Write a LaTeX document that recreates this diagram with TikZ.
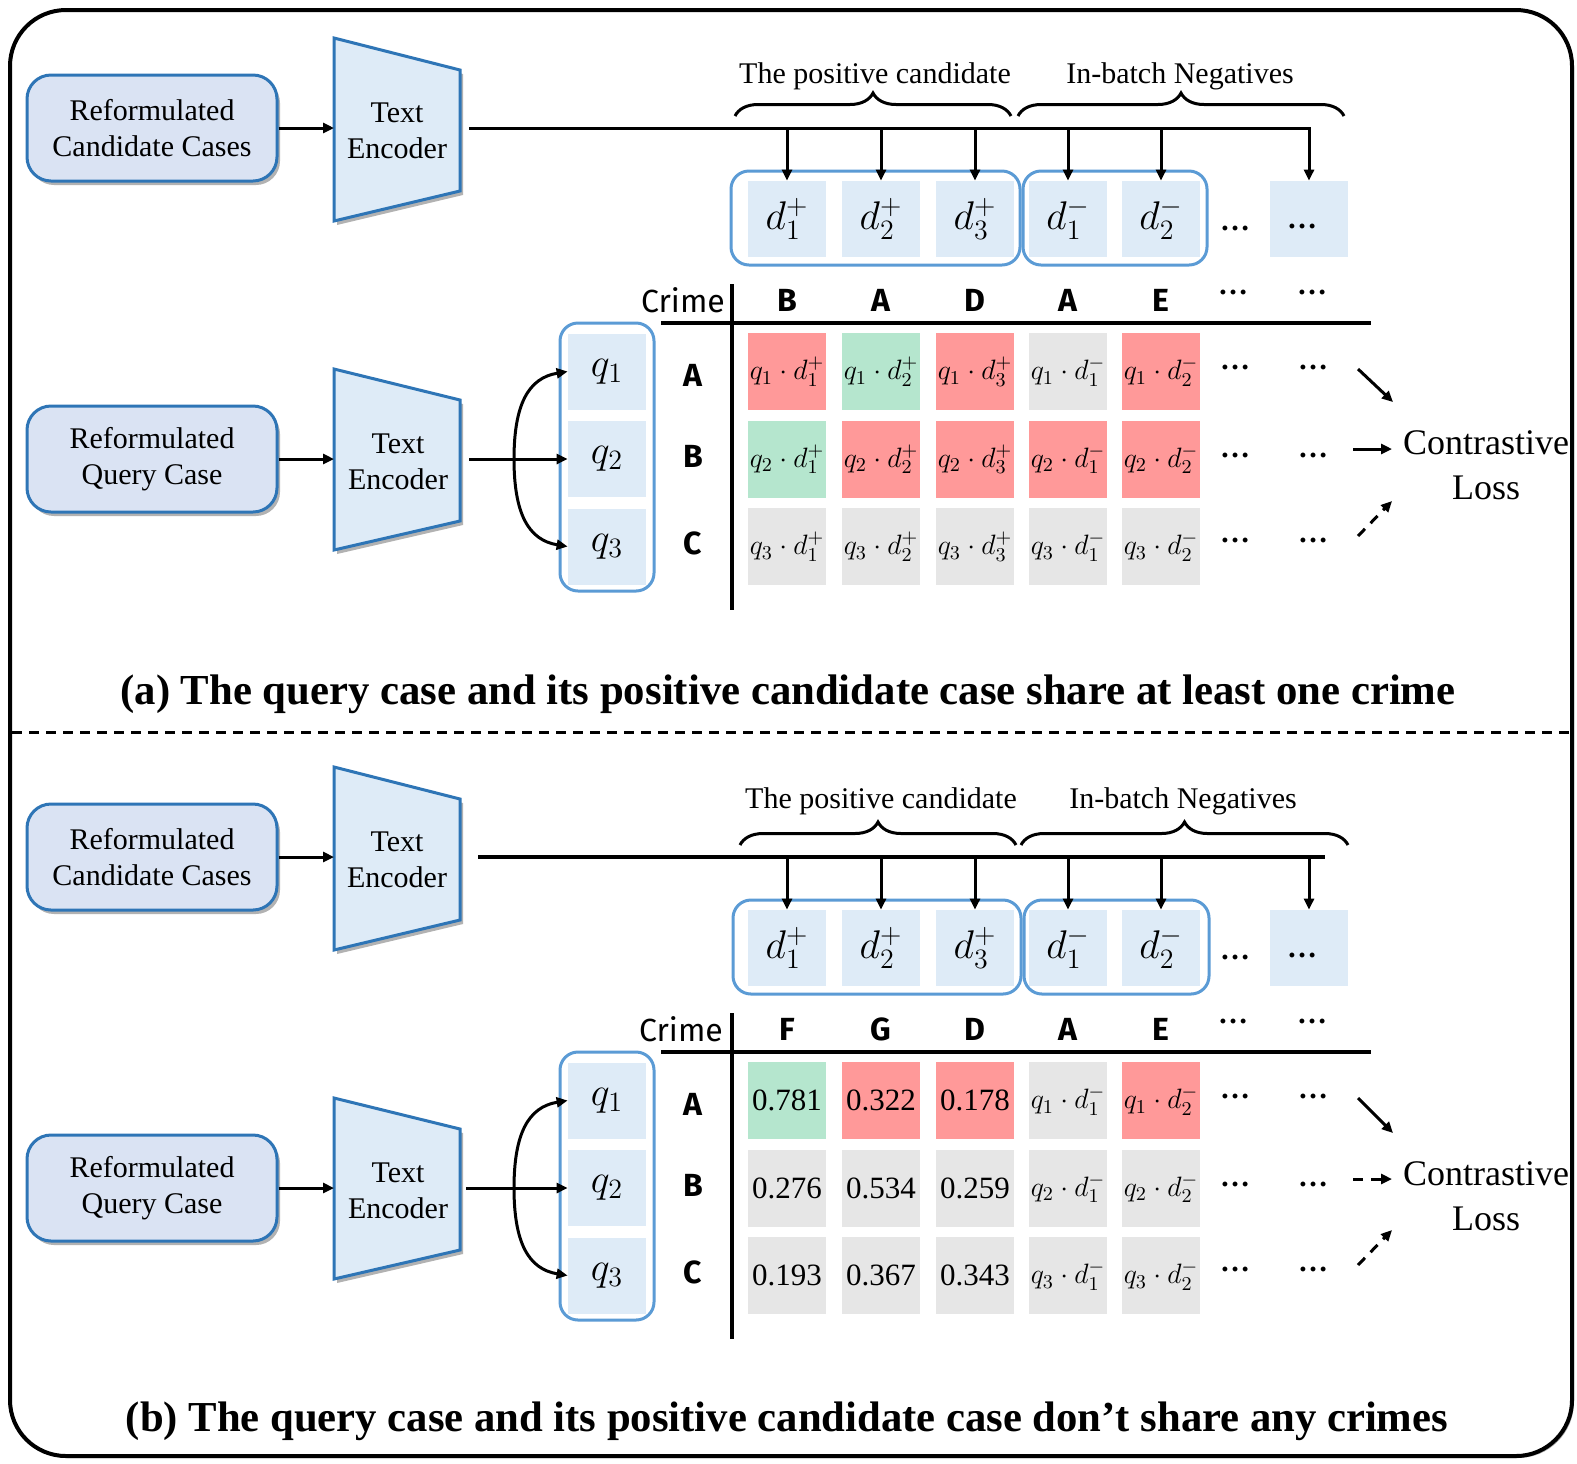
\RequirePackage{fix-cm}
\documentclass[tikz,border=0pt]{standalone}
\usepackage{graphicx}
\usepackage{fontspec}
\setmainfont{Liberation Serif}
\newfontfamily\crimefont{Fira Sans}
\usetikzlibrary{arrows.meta,shadows,decorations.pathreplacing,calc}

\definecolor{inFill}{HTML}{DAE3F3}
\definecolor{inDraw}{HTML}{2E75B6}
\definecolor{encFill}{HTML}{DEEBF7}
\definecolor{vecFill}{HTML}{DEEBF7}
\definecolor{grpDraw}{HTML}{5B9BD5}
\definecolor{posRed}{HTML}{FF9999}
\definecolor{posGreen}{HTML}{B5E6CE}
\definecolor{neuGrey}{HTML}{E6E6E6}

\tikzset{
  boxshadow/.style={drop shadow={shadow xshift=1.5pt, shadow yshift=-2pt, opacity=0.3, fill=black}},
  inbox/.style={draw=inDraw, fill=inFill, line width=1.5pt, rounded corners=12pt,
    minimum width=125pt, minimum height=53pt, inner sep=0pt, align=center,
    font=\fontsize{15}{18}\selectfont, boxshadow},
  enc/.style={draw=inDraw, fill=encFill, line width=1.5pt, boxshadow},
  enctext/.style={align=center, inner sep=0pt, font=\fontsize{15}{18}\selectfont},
  vec/.style={fill=vecFill, minimum width=39pt, minimum height=38pt, inner sep=0pt,
    font=\fontsize{20}{24}\selectfont},
  cellbase/.style={minimum width=39pt, minimum height=38.5pt, inner sep=0pt,
    font=\fontsize{14}{16}\selectfont},
  redcell/.style={cellbase, fill=posRed},
  greencell/.style={cellbase, fill=posGreen},
  greycell/.style={cellbase, fill=neuGrey},
  grp/.style={draw=grpDraw, line width=1.5pt, rounded corners=9pt},
  arr/.style={line width=1.5pt, -{Triangle[length=5.5pt,width=5pt]}},
  dasharr/.style={arr, dash pattern=on 5pt off 4pt},
  bus/.style={line width=1.75pt},
  rule/.style={line width=1.75pt},
  bracesty/.style={line width=1.5pt, decorate, decoration={brace, amplitude=11.5pt}},
  lbl/.style={inner sep=0pt, font=\fontsize{15}{18}\selectfont},
  crimehd/.style={inner sep=0pt, font=\crimefont\fontsize{16}{18}\selectfont},
  crimeltr/.style={inner sep=0pt, font=\crimefont\bfseries\fontsize{16}{18}\selectfont},
  dotsty/.style={inner sep=0pt, font=\bfseries\fontsize{15}{18}\selectfont},
  losstext/.style={align=center, inner sep=0pt, font=\fontsize{18}{22.5}\selectfont},
  frame/.style={line width=2pt, rounded corners=28pt, fill=white,
    drop shadow={shadow xshift=1pt, shadow yshift=-1pt, opacity=0.35, fill=black}},
  sep/.style={line width=1.5pt, dash pattern=on 5pt off 3.5pt},
  captext/.style={inner sep=0pt}
}

\begin{document}
\begin{tikzpicture}[x=0.5pt,y=-0.5pt]
\useasboundingbox (0,0) rectangle (1577,1463);

% outer frame and separator
\draw[frame] (10,10) rectangle (1572,1456);
\draw[sep] (12,732) -- (1570,732);

% ================= panel (a) =================
% candidate branch
\node[inbox] (a-in1) at (152,128) {Reformulated\\Candidate Cases};
\path[enc] (334,38) -- (460,70) -- (460,191) -- (334,221) -- cycle;
\node[enctext] (a-enc1) at (397,131) {Text\\Encoder};
\coordinate (a-e1w) at (334,128);
\coordinate (a-e1e) at (469,128);
\draw[arr] (a-in1.east) -- (a-e1w);

% candidate vectors
\foreach \i/\x/\v in {1/787/{d_1^+},2/881/{d_2^+},3/975/{d_3^+},4/1068/{d_1^-},5/1161/{d_2^-}}
  \node[vec] (a-d\i) at (\x,219) {$\v$};
\node[vec] (a-d6) at (1309,219) {};
\node[dotsty] (a-d6dots) at (1302,226) {…};
\node[dotsty] (a-ddots) at (1235,228) {…};
\draw[grp] (731,171) rectangle (1020,265);
\draw[grp] (1023,171) rectangle (1207,265);

% bus to the vectors
\draw[bus,arr] (a-e1e) -| (a-d6.north);
\foreach \i in {1,...,5}
  \draw[arr] (a-d\i.north |- a-e1e) -- (a-d\i.north);

% braces and their labels
\draw[bracesty] (735,116) -- (1011,116);
\draw[bracesty] (1018,116) -- (1344,116);
\node[lbl] (a-pos) at (875,76) {The positive candidate};
\node[lbl] (a-neg) at (1180,76) {In-batch Negatives};

% query branch
\node[inbox] (a-in2) at (152,459) {Reformulated\\Query Case};
\path[enc] (334,369) -- (460,400) -- (460,521) -- (334,550) -- cycle;
\node[enctext] (a-enc2) at (398,462) {Text\\Encoder};
\coordinate (a-e2w) at (334,459);
\coordinate (a-e2e) at (469,459);
\draw[arr] (a-in2.east) -- (a-e2w);

\node[vec] (a-q1) at (607,371.5) {$q_1$};
\node[vec] (a-q2) at (607,459) {$q_2$};
\node[vec] (a-q3) at (607,546.5) {$q_3$};
\draw[grp] (560,323) rectangle (654,591);

\coordinate (a-sp) at (514,459);
\draw[arr] (a-e2e) -- (a-q2.west);
\draw[arr] (a-sp) .. controls (514,405) and (528,378) .. (a-q1.west);
\draw[arr] (a-sp) .. controls (514,513) and (528,540) .. (a-q3.west);

% crime table
\draw[rule] (661,323) -- (1371,323);
\draw[rule] (732,284) -- (732,610);
\node[crimehd] (a-crime) at (683,300) {Crime};
\foreach \i/\x/\c in {1/787/B,2/881/A,3/975/D,4/1068/A,5/1161/E}
  \node[crimeltr] (a-h\i) at (\x,300) {\c};
\node[dotsty] (a-h6) at (1233,292) {…};
\node[dotsty] (a-h7) at (1312,292) {…};
\node[crimeltr] (a-rA) at (693,375) {A};
\node[crimeltr] (a-rB) at (693,456) {B};
\node[crimeltr] (a-rC) at (693,543) {C};

% similarity cells
\node[redcell]   (a-c11) at (787,371.5)  {$q_1\cdot d_1^+$};
\node[greencell] (a-c12) at (881,371.5)  {$q_1\cdot d_2^+$};
\node[redcell]   (a-c13) at (975,371.5)  {$q_1\cdot d_3^+$};
\node[greycell]  (a-c14) at (1068,371.5) {$q_1\cdot d_1^-$};
\node[redcell]   (a-c15) at (1161,371.5) {$q_1\cdot d_2^-$};
\node[greencell] (a-c21) at (787,459)  {$q_2\cdot d_1^+$};
\node[redcell]   (a-c22) at (881,459)  {$q_2\cdot d_2^+$};
\node[redcell]   (a-c23) at (975,459)  {$q_2\cdot d_3^+$};
\node[redcell]   (a-c24) at (1068,459) {$q_2\cdot d_1^-$};
\node[redcell]   (a-c25) at (1161,459) {$q_2\cdot d_2^-$};
\node[greycell]  (a-c31) at (787,546.5)  {$q_3\cdot d_1^+$};
\node[greycell]  (a-c32) at (881,546.5)  {$q_3\cdot d_2^+$};
\node[greycell]  (a-c33) at (975,546.5)  {$q_3\cdot d_3^+$};
\node[greycell]  (a-c34) at (1068,546.5) {$q_3\cdot d_1^-$};
\node[greycell]  (a-c35) at (1161,546.5) {$q_3\cdot d_2^-$};
\foreach \r/\y in {1/367,2/455,3/540} {
  \node[dotsty] (a-m\r a) at (1235,\y) {…};
  \node[dotsty] (a-m\r b) at (1313,\y) {…};
}

% contrastive loss
\node[losstext] (a-loss) at (1486,465) {Contrastive\\Loss};
\coordinate (a-l1s) at (1358,369);  \coordinate (a-l1e) at (1393,402);
\coordinate (a-l2s) at (1353,449);  \coordinate (a-l2e) at (1392,449);
\coordinate (a-l3s) at (1358,536);  \coordinate (a-l3e) at (1392,501);
\draw[arr] (a-l1s) -- (a-l1e);
\draw[arr] (a-l2s) -- (a-l2e);
\draw[dasharr] (a-l3s) -- (a-l3e);

\node[captext] (a-cap) at (788,694)
  {\resizebox{667.5pt}{!}{\bfseries (a) The query case and its positive candidate case share at least one crime}};

% ================= panel (b) =================
\begin{scope}[shift={(0,729)}]
\node[inbox] (b-in1) at (152,128) {Reformulated\\Candidate Cases};
\path[enc] (334,38) -- (460,70) -- (460,191) -- (334,221) -- cycle;
\node[enctext] (b-enc1) at (397,131) {Text\\Encoder};
\coordinate (b-e1w) at (334,128);
\coordinate (b-e1e) at (478,128);
\coordinate (b-e1x) at (1325,128);
\draw[arr] (b-in1.east) -- (b-e1w);

\foreach \i/\x/\v in {1/787/{d_1^+},2/881/{d_2^+},3/975/{d_3^+},4/1068/{d_1^-},5/1161/{d_2^-}}
  \node[vec] (b-d\i) at (\x,219) {$\v$};
\node[vec] (b-d6) at (1309,219) {};
\node[dotsty] (b-d6dots) at (1302,226) {…};
\node[dotsty] (b-ddots) at (1235,228) {…};
\draw[grp] (733,171) rectangle (1021,265);
\draw[grp] (1024,171) rectangle (1209,265);

\draw[bus] (b-e1e) -- (b-e1x);
\foreach \i in {1,...,6}
  \draw[arr] (b-d\i.north |- b-e1e) -- (b-d\i.north);

\draw[bracesty] (740,116) -- (1016,116);
\draw[bracesty] (1021,116) -- (1348,116);
\node[lbl] (b-pos) at (881,72) {The positive candidate};
\node[lbl] (b-neg) at (1183,72) {In-batch Negatives};

\node[inbox] (b-in2) at (152,459) {Reformulated\\Query Case};
\path[enc] (334,369) -- (460,400) -- (460,521) -- (334,550) -- cycle;
\node[enctext] (b-enc2) at (398,462) {Text\\Encoder};
\coordinate (b-e2w) at (334,459);
\coordinate (b-e2e) at (466,459);
\draw[arr] (b-in2.east) -- (b-e2w);

\node[vec] (b-q1) at (607,371.5) {$q_1$};
\node[vec] (b-q2) at (607,459) {$q_2$};
\node[vec] (b-q3) at (607,546.5) {$q_3$};
\draw[grp] (560,323) rectangle (654,591);

\coordinate (b-sp) at (514,459);
\draw[arr] (b-e2e) -- (b-q2.west);
\draw[arr] (b-sp) .. controls (514,405) and (528,378) .. (b-q1.west);
\draw[arr] (b-sp) .. controls (514,513) and (528,540) .. (b-q3.west);

\draw[rule] (661,323) -- (1371,323);
\draw[rule] (732,284) -- (732,610);
\node[crimehd] (b-crime) at (681,300) {Crime};
\foreach \i/\x/\c in {1/787/F,2/881/G,3/975/D,4/1068/A,5/1161/E}
  \node[crimeltr] (b-h\i) at (\x,300) {\c};
\node[dotsty] (b-h6) at (1233,292) {…};
\node[dotsty] (b-h7) at (1312,292) {…};
\node[crimeltr] (b-rA) at (693,375) {A};
\node[crimeltr] (b-rB) at (693,456) {B};
\node[crimeltr] (b-rC) at (693,543) {C};

\node[greencell] (b-c11) at (787,371.5)  {\fontsize{15.5}{18}\selectfont 0.781};
\node[redcell]   (b-c12) at (881,371.5)  {\fontsize{15.5}{18}\selectfont 0.322};
\node[redcell]   (b-c13) at (975,371.5)  {\fontsize{15.5}{18}\selectfont 0.178};
\node[greycell]  (b-c14) at (1068,371.5) {$q_1\cdot d_1^-$};
\node[redcell]   (b-c15) at (1161,371.5) {$q_1\cdot d_2^-$};
\node[greycell]  (b-c21) at (787,459)  {\fontsize{15.5}{18}\selectfont 0.276};
\node[greycell]  (b-c22) at (881,459)  {\fontsize{15.5}{18}\selectfont 0.534};
\node[greycell]  (b-c23) at (975,459)  {\fontsize{15.5}{18}\selectfont 0.259};
\node[greycell]  (b-c24) at (1068,459) {$q_2\cdot d_1^-$};
\node[greycell]  (b-c25) at (1161,459) {$q_2\cdot d_2^-$};
\node[greycell]  (b-c31) at (787,546.5)  {\fontsize{15.5}{18}\selectfont 0.193};
\node[greycell]  (b-c32) at (881,546.5)  {\fontsize{15.5}{18}\selectfont 0.367};
\node[greycell]  (b-c33) at (975,546.5)  {\fontsize{15.5}{18}\selectfont 0.343};
\node[greycell]  (b-c34) at (1068,546.5) {$q_3\cdot d_1^-$};
\node[greycell]  (b-c35) at (1161,546.5) {$q_3\cdot d_2^-$};
\foreach \r/\y in {1/367,2/455,3/540} {
  \node[dotsty] (b-m\r a) at (1235,\y) {…};
  \node[dotsty] (b-m\r b) at (1313,\y) {…};
}

\node[losstext] (b-loss) at (1486,467) {Contrastive\\Loss};
\coordinate (b-l1s) at (1358,369);  \coordinate (b-l1e) at (1393,404);
\coordinate (b-l2s) at (1353,450);  \coordinate (b-l2e) at (1392,450);
\coordinate (b-l3s) at (1358,536);  \coordinate (b-l3e) at (1392,501);
\draw[arr] (b-l1s) -- (b-l1e);
\draw[dasharr] (b-l2s) -- (b-l2e);
\draw[dasharr] (b-l3s) -- (b-l3e);

\node[captext] (b-cap) at (787,692)
  {\resizebox{661pt}{!}{\bfseries (b) The query case and its positive candidate case don’t share any crimes}};
\end{scope}
\end{tikzpicture}
\end{document}
